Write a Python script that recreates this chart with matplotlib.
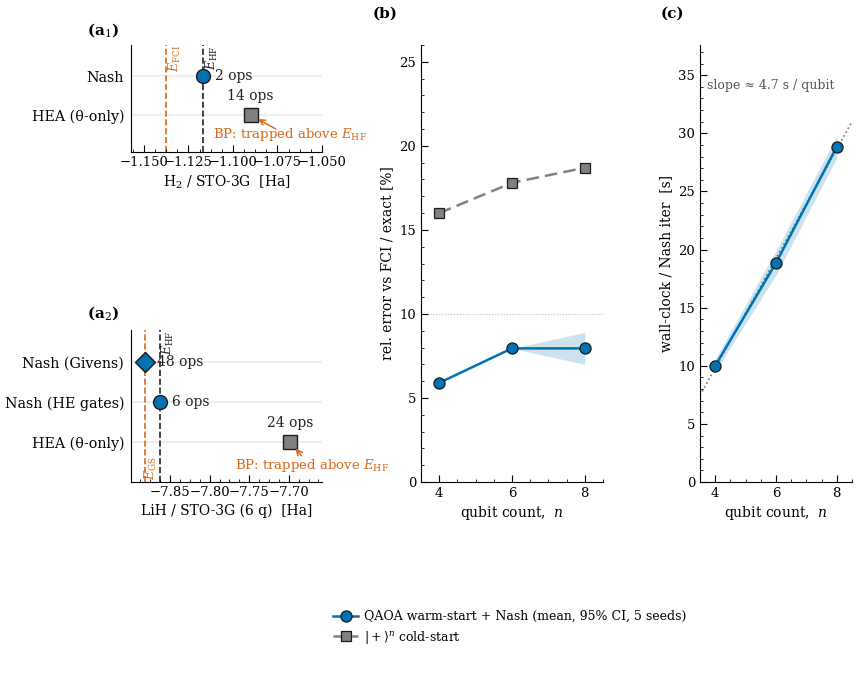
import numpy as np
import matplotlib.pyplot as plt
from matplotlib.ticker import AutoMinorLocator, MultipleLocator

plt.rcParams['font.family'] = ['DejaVu Serif']
plt.rcParams['mathtext.fontset'] = 'dejavuserif'
plt.rcParams['xtick.direction'] = 'in'
plt.rcParams['ytick.direction'] = 'in'

BLUE = '#0173B2'
ORANGE = '#D8691A'
GRAY = '#808080'
EDGE = '#1a1a1a'

# (a1) H2 / STO-3G
h2_labels = ['HEA (θ-only)', 'Nash']
h2_energy = [-1.090, -1.1168]
h2_ops = [14, 2]
h2_e_fci = -1.1373
h2_e_hf = -1.1168

# (a2) LiH / STO-3G (6 q)
lih_labels = ['HEA (θ-only)', 'Nash (HE gates)', 'Nash (Givens)']
lih_energy = [-7.698, -7.8634, -7.8823]
lih_ops = [24, 6, 48]
lih_e_gs = -7.8823
lih_e_hf = -7.8634

# (b) relative error vs qubit count
qubits = [4, 6, 8]
warm_err = [5.9, 7.95, 7.95]
warm_lo = [5.9, 7.95, 7.0]
warm_hi = [5.9, 7.95, 8.9]
cold_err = [16.0, 17.8, 18.7]

# (c) wall-clock per Nash iteration
wall = [10.0, 18.85, 28.85]
wall_lo = [9.5, 17.8, 27.9]
wall_hi = [10.6, 19.9, 29.8]

fig = plt.figure(figsize=(8.6, 6.78), dpi=100)

def px_axes(l, t, r, b):
    W, H = 860, 678
    return fig.add_axes([l / W, 1 - b / H, (r - l) / W, (b - t) / H])

def style_cat(ax):
    ax.spines['top'].set_visible(False)
    ax.spines['right'].set_visible(False)
    ax.tick_params(axis='y', length=0, labelsize=10.3, pad=5)
    ax.tick_params(axis='x', which='major', length=5, labelsize=9.5, pad=3)
    ax.tick_params(axis='x', which='minor', length=2.5)
    ax.xaxis.set_minor_locator(AutoMinorLocator(4))

def bp_note(ax, x, y, txt_off, arr_off):
    ax.annotate('BP: trapped above $E_{\\mathrm{HF}}$', xy=(x, y), xytext=txt_off,
                textcoords='offset points', ha='left', va='center', color=ORANGE,
                fontsize=9.5, annotation_clip=False)
    ax.annotate('', xy=(x, y), xytext=arr_off, textcoords='offset points',
                arrowprops=dict(arrowstyle='->', color=ORANGE, lw=1.1, shrinkA=0, shrinkB=6))

# ---- (a1)
ax1 = px_axes(131, 45, 322, 152)
for yy in range(len(h2_labels)):
    ax1.axhline(yy, color='#ebebeb', lw=1.2, zorder=0)
ax1.axvline(h2_e_fci, color=ORANGE, ls='--', lw=1.2, zorder=1)
ax1.axvline(h2_e_hf, color='#222222', ls='--', lw=1.2, zorder=1)
ax1.text(h2_e_fci + 0.0005, 1.8, '$E_{\\mathrm{FCI}}$', rotation=90, ha='left', va='top',
         color=ORANGE, fontsize=9)
ax1.text(h2_e_hf + 0.0005, 1.8, '$E_{\\mathrm{HF}}$', rotation=90, ha='left', va='top',
         color='#222222', fontsize=9)
ax1.plot(h2_energy[1], 1, 'o', ms=10, color=BLUE, mec=EDGE, mew=1, zorder=3)
ax1.plot(h2_energy[0], 0, 's', ms=10, color=GRAY, mec=EDGE, mew=1, zorder=3)
ax1.annotate(f'{h2_ops[1]} ops', xy=(h2_energy[1], 1), xytext=(9, 0), textcoords='offset points',
             ha='left', va='center', fontsize=10, color='#222222')
ax1.annotate(f'{h2_ops[0]} ops', xy=(h2_energy[0], 0), xytext=(0, 14), textcoords='offset points',
             ha='center', va='center', fontsize=10, color='#222222')
bp_note(ax1, h2_energy[0], 0, (-27, -14), (18, -10))
ax1.set_yticks(range(len(h2_labels)))
ax1.set_yticklabels(h2_labels)
ax1.set_ylim(-0.95, 1.8)
ax1.set_xlim(-1.1572, -1.0505)
ax1.set_xticks([-1.150, -1.125, -1.100, -1.075, -1.050])
ax1.set_xlabel('H$_2$ / STO-3G  [Ha]', fontsize=10, labelpad=3)
style_cat(ax1)

# ---- (a2)
ax2 = px_axes(131, 330, 322, 482)
for yy in range(len(lih_labels)):
    ax2.axhline(yy, color='#ebebeb', lw=1.2, zorder=0)
ax2.axvline(lih_e_gs, color=ORANGE, ls='--', lw=1.2, zorder=1)
ax2.axvline(lih_e_hf, color='#222222', ls='--', lw=1.2, zorder=1)
ax2.text(lih_e_hf + 0.001, 2.8, '$E_{\\mathrm{HF}}$', rotation=90, ha='left', va='top',
         color='#222222', fontsize=9)
ax2.text(lih_e_gs - 0.002, -0.95, '$E_{\\mathrm{GS}}$', rotation=90, ha='left', va='bottom',
         color=ORANGE, fontsize=9)
ax2.plot(lih_energy[2], 2, 'D', ms=10.5, color=BLUE, mec=EDGE, mew=1, zorder=3)
ax2.plot(lih_energy[1], 1, 'o', ms=10, color=BLUE, mec=EDGE, mew=1, zorder=3)
ax2.plot(lih_energy[0], 0, 's', ms=10, color=GRAY, mec=EDGE, mew=1, zorder=3)
ax2.annotate(f'{lih_ops[2]} ops', xy=(lih_energy[2], 2), xytext=(9, 0), textcoords='offset points',
             ha='left', va='center', fontsize=10, color='#222222')
ax2.annotate(f'{lih_ops[1]} ops', xy=(lih_energy[1], 1), xytext=(9, 0), textcoords='offset points',
             ha='left', va='center', fontsize=10, color='#222222')
ax2.annotate(f'{lih_ops[0]} ops', xy=(lih_energy[0], 0), xytext=(0, 14), textcoords='offset points',
             ha='center', va='center', fontsize=10, color='#222222')
bp_note(ax2, lih_energy[0], 0, (-40, -17), (8, -10))
ax2.set_yticks(range(len(lih_labels)))
ax2.set_yticklabels(lih_labels)
ax2.set_ylim(-1.0, 2.8)
ax2.set_xlim(-7.8995, -7.658)
ax2.set_xticks([-7.85, -7.80, -7.75, -7.70])
ax2.set_xlabel('LiH / STO-3G (6 q)  [Ha]', fontsize=10, labelpad=3)
style_cat(ax2)

def style_num(ax):
    ax.spines['top'].set_visible(False)
    ax.spines['right'].set_visible(False)
    ax.tick_params(which='major', length=5, labelsize=9.5)
    ax.tick_params(which='minor', length=2.5)
    ax.xaxis.set_major_locator(MultipleLocator(2))
    ax.xaxis.set_minor_locator(AutoMinorLocator(4))
    ax.yaxis.set_major_locator(MultipleLocator(5))
    ax.yaxis.set_minor_locator(AutoMinorLocator(5))
    ax.set_xlim(3.5, 8.5)
    ax.set_xlabel('qubit count,  $n$', fontsize=10, labelpad=3)

# ---- (b)
axb = px_axes(421, 45, 603, 482)
axb.axhline(10, color='#bbbbbb', ls=':', lw=0.8, zorder=0)
axb.fill_between(qubits, warm_lo, warm_hi, color=BLUE, alpha=0.2, lw=0)
hw, = axb.plot(qubits, warm_err, '-o', color=BLUE, lw=1.8, ms=8, mec=EDGE, mew=0.9,
               label='QAOA warm-start + Nash (mean, 95% CI, 5 seeds)', zorder=3)
hc, = axb.plot(qubits, cold_err, '--s', color=GRAY, lw=1.8, ms=7.5, mec=EDGE, mew=0.9,
               dashes=(5, 2.5), label='$|+\\rangle^n$ cold-start', zorder=3)
axb.set_ylim(0, 26)
axb.set_ylabel('rel. error vs FCI / exact [%]', fontsize=10)
style_num(axb)

# ---- (c)
axc = px_axes(700, 45, 852, 482)
slope, icpt = np.polyfit(qubits, wall, 1)
xf = np.array([3.5, 8.5])
axc.plot(xf, slope * xf + icpt, ':', color='#777777', lw=1.2, zorder=1)
axc.fill_between(qubits, wall_lo, wall_hi, color=BLUE, alpha=0.2, lw=0)
axc.plot(qubits, wall, '-o', color=BLUE, lw=1.8, ms=8, mec=EDGE, mew=0.9, zorder=3)
axc.text(0.046, 0.908, f'slope ≈ {slope:.1f} s / qubit', transform=axc.transAxes,
         ha='left', va='center', fontsize=9, color='#555555')
axc.set_ylim(0, 37.6)
axc.set_ylabel('wall-clock / Nash iter  [s]', fontsize=10)
style_num(axc)

# panel tags
fig.text(103 / 860, 1 - 30 / 678, '(a$_1$)', ha='center', va='center', fontsize=11, fontweight='bold')
fig.text(103 / 860, 1 - 313 / 678, '(a$_2$)', ha='center', va='center', fontsize=11, fontweight='bold')
fig.text(385 / 860, 1 - 14 / 678, '(b)', ha='center', va='center', fontsize=11, fontweight='bold')
fig.text(672 / 860, 1 - 14 / 678, '(c)', ha='center', va='center', fontsize=11, fontweight='bold')

fig.legend(handles=[hw, hc], loc='center left', bbox_to_anchor=(322 / 860, 1 - 628 / 678),
           frameon=False, fontsize=9, handlelength=2.0, handletextpad=0.5, labelspacing=0.45)

fig.savefig('out.png', dpi=100)
